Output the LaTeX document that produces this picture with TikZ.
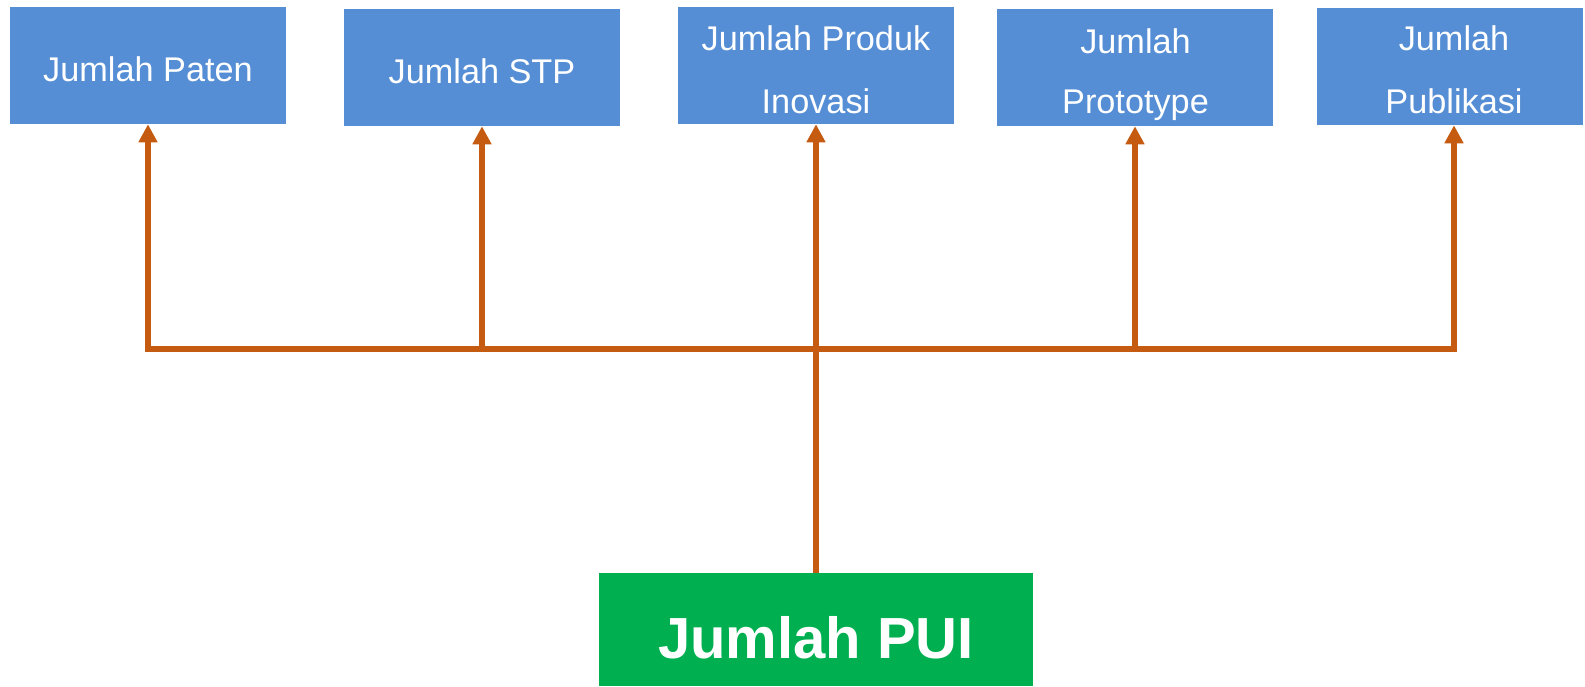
\documentclass[tikz,border=0pt]{standalone}
\usepackage{fontspec}
\setmainfont{Liberation Sans}
\usetikzlibrary{arrows.meta}
\definecolor{boxblue}{RGB}{85,142,213}
\definecolor{puigreen}{RGB}{0,176,80}
\definecolor{linkorange}{RGB}{197,90,17}
\begin{document}
\begin{tikzpicture}[x=0.75pt,y=-0.75pt,
  topbox/.style={draw=none,fill=boxblue,inner sep=0pt,minimum width=#1*0.75pt,minimum height=117*0.75pt},
  lbl/.style={text=white,inner sep=0pt,anchor=base,font=\fontsize{25.7pt}{30pt}\selectfont},
  link/.style={draw=linkorange,line width=4.5pt},
  linkarrow/.style={link,-{Triangle[width=13.5pt,length=13.5pt]}}]
\useasboundingbox (0,0) rectangle (1585,686);
% target boxes
\node[topbox=276] (paten)  at (148,65.5) {};
\node[topbox=276] (stp)    at (482,67.5) {};
\node[topbox=276] (produk) at (816,65.5) {};
\node[topbox=276] (proto)  at (1135,67.5) {};
\node[topbox=266] (publ)   at (1450,66.5) {};
% source box
\node[fill=puigreen,inner sep=0pt,minimum width=434*0.75pt,minimum height=113*0.75pt] (pui) at (816,629.5) {};
\node[text=white,inner sep=0pt,anchor=base,font=\bfseries\fontsize{43.5pt}{50pt}\selectfont] (puitext) at (816,658) {Jumlah PUI};
% labels
\node[lbl] (paten1) at (148,81) {Jumlah Paten};
\node[lbl] (stp1) at (482,83) {Jumlah STP};
\node[lbl] (produk1) at (816,50) {Jumlah Produk};
\node[lbl] (produk2) at (816,113) {Inovasi};
\node[lbl] (proto1) at (1135.5,53) {Jumlah};
\node[lbl] (proto2) at (1135.5,113) {Prototype};
\node[lbl] (publ1) at (1454,50) {Jumlah};
\node[lbl] (publ2) at (1454,113) {Publikasi};
% connectors
\coordinate (bus) at (816,349);
\draw[linkarrow] (pui.north) -- (produk.south);
\draw[linkarrow] (bus) -| (paten.south);
\draw[linkarrow] (bus) -| (stp.south);
\draw[linkarrow] (bus) -| (proto.south);
\draw[linkarrow] (bus) -| ([xshift=3pt]publ.south);
\end{tikzpicture}
\end{document}
